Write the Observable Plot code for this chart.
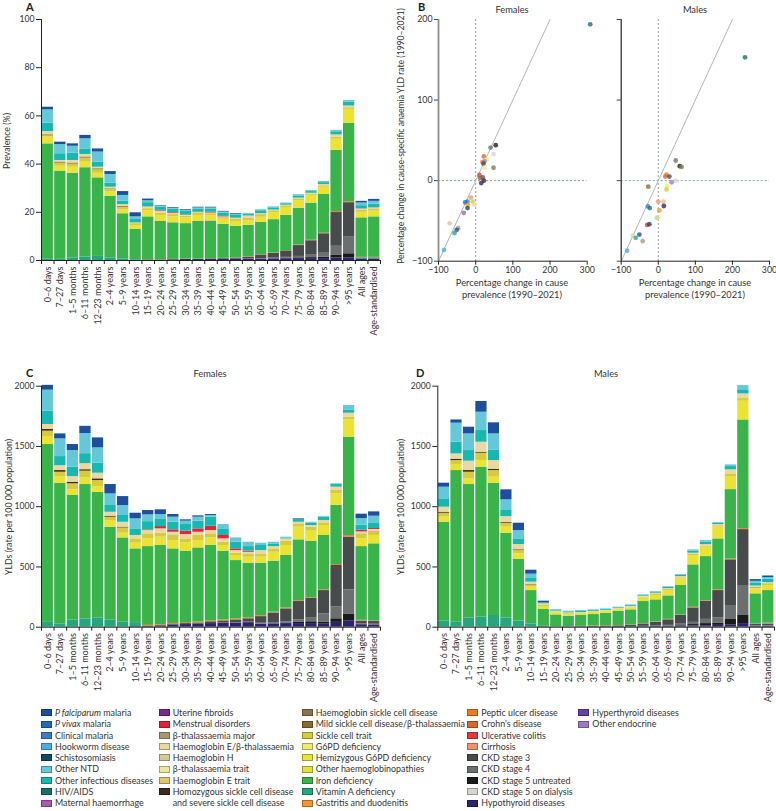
<!DOCTYPE html>
<html><head><meta charset="utf-8">
<script src="https://cdn.jsdelivr.net/npm/d3@7"></script>
<script src="https://cdn.jsdelivr.net/npm/@observablehq/plot@0.6"></script>
<style>
body{margin:0;background:#fff;}
#root{position:relative;width:776px;height:811px;font-family:Lato,"Open Sans",sans-serif;color:#333;overflow:hidden;background:#fff;}
#root div{position:absolute;white-space:nowrap;}
.pl{font-weight:bold;font-size:11px;color:#222;}
.ttl{font-size:9.3px;transform:translate(-50%,-50%);}
.rot{font-size:8.8px;transform:translate(-50%,-50%) rotate(-90deg);}
.lg{font-size:8.9px;line-height:11.3px;}
.sw{width:9px;height:5px;border:1px solid #444;}
</style></head><body><div id="root"></div>
<script>
// ---------- categories ----------
const ages = ["0–6 days","7–27 days","1–5 months","6–11 months","12–23 months","2–4 years","5–9 years","10–14 years","15–19 years","20–24 years","25–29 years","30–34 years","35–39 years","40–44 years","45–49 years","50–54 years","55–59 years","60–64 years","65–69 years","70–74 years","75–79 years","80–84 years","85–89 years","90–94 years",">95 years","All ages","Age-standardised"];

const causes = ["P falciparum malaria","P vivax malaria","Clinical malaria","Hookworm disease","Schistosomiasis","Other NTD","Other infectious diseases","HIV/AIDS","Maternal haemorrhage","Uterine fibroids","Menstrual disorders","β-thalassaemia major","Haemoglobin E/β-thalassaemia","Haemoglobin H","β-thalassaemia trait","Haemoglobin E trait","Homozygous sickle cell disease and severe sickle cell disease","Haemoglobin sickle cell disease","Mild sickle cell disease/β-thalassaemia","Sickle cell trait","G6PD deficiency","Hemizygous G6PD deficiency","Other haemoglobinopathies","Iron deficiency","Vitamin A deficiency","Gastritis and duodenitis","Peptic ulcer disease","Crohn's disease","Ulcerative colitis","Cirrhosis","CKD stage 3","CKD stage 4","CKD stage 5 untreated","CKD stage 5 on dialysis","Hypothyroid diseases","Hyperthyroid diseases","Other endocrine"];

const causeColors = ["#1d4f9e","#1c6db3","#3a7cc6","#4aaee0","#0f4a62","#64c8d9","#17b8b0","#17706c","#a45db0","#7a2a8e","#e2233b","#a69a76","#e9d8a2","#d3cc99","#ede7a0","#e5c26f","#3f2b17","#8a7452","#8a6a2c","#d6cb3e","#efeb74","#eae334","#e1e03e","#3ab44a","#27a57d","#f09830","#f07a22","#d8692b","#e8373a","#f3936b","#474b4b","#6b6f6f","#1a1a1a","#d7d7cf","#2b2371","#6a40a2","#9b7bc2"];

// ---------- Panel A: prevalence (%) ----------
const A_hypo = [0,0,0,0,0,0,0,0.1,0.2,0.2,0.3,0.4,0.4,0.5,0.5,0.6,0.6,0.6,0.7,0.7,0.8,0.8,0.8,1.0,1.1,0.5,0.5];
const A_ckd5u = [0,0,0,0,0,0,0,0,0,0,0,0,0,0,0,0,0,0,0,0.2,0.3,0.4,0.6,1.1,1.7,0.1,0.1];
const A_ckd4 = [0,0,0,0,0,0,0,0,0,0,0,0,0,0,0,0,0.1,0.2,0.3,0.4,0.6,1.0,1.6,3.8,6.9,0.1,0.1];
const A_ckd3 = [0,0,0,0,0,0,0,0,0,0,0.05,0.1,0.1,0.2,0.3,0.4,0.7,1.5,2.0,2.7,4.5,6.0,8.1,14.0,14.3,0.3,0.3];
const A_ulcer = [0,0,0,0,0,0,0,0,0.1,0.1,0.1,0.1,0.1,0.1,0.1,0.1,0.15,0.15,0.15,0.15,0.2,0.2,0.2,0.4,0.4,0.1,0.1];
const A_vitA = [0.7,0.5,1.1,1.4,1.7,1.1,0.7,0.3,0.1,0,0,0,0,0,0,0,0,0,0,0,0,0,0,0,0,0.2,0.2];
const A_iron = [47.7,36.6,35.1,37.1,32.6,25.5,18.7,12.6,17.7,15.9,15.2,14.7,15.7,15.6,14.1,13.1,13.0,13.4,13.8,14.6,15.3,15.4,16.1,25.4,32.5,16.4,16.8];
const A_yellow = [2.8,2.0,2.5,2.3,1.9,1.8,1.6,1.5,2.5,2.5,2.5,2.4,2.4,2.2,2.1,2.0,1.9,2.1,2.8,3.2,3.1,3.2,3.0,4.6,5.8,2.3,2.4];
const A_olive = [0.6,1.4,1.4,1.8,1.5,1.1,1.2,0.8,0.9,0.9,0.9,0.7,0.8,0.8,0.7,0.8,1.0,1.1,0.9,0.7,0.8,0.5,0.6,0.9,0.7,0.8,0.8];
const A_brown = [0.3,0.3,0.3,0.3,0.3,0.2,0.2,0,0,0,0,0,0,0,0,0,0,0,0,0,0,0,0,0,0,0.05,0.05];
const A_thal = [1.4,0.7,1.1,1.1,0.7,0.7,0.8,0.3,0.7,0.9,0.5,0.3,0.4,0.3,0.3,0.5,1.0,0.4,0.3,0.3,0.3,0.4,0.5,0.9,0.7,0.5,0.5];
const A_menstrual = [0,0,0,0,0,0,0,0,0.1,0.3,0.3,0.2,0.2,0.3,0.2,0.1,0,0,0,0,0,0,0,0,0,0.1,0.1];
const A_otherInf = [3.5,2.8,3.0,2.3,2.1,1.7,1.4,1.4,1.7,1.4,1.4,1.5,1.3,1.4,1.4,1.1,0.8,1.2,0.9,0.6,0.9,0.7,0.8,1.3,1.6,1.3,1.4];
const A_otherNTD = [5.5,3.8,2.9,4.2,4.2,3.6,2.4,1.1,0.8,0.4,0.4,0.4,0.4,0.4,0.4,0.4,0.3,0.4,0.4,0.3,0.5,0.4,0.5,0.6,0.7,1.1,1.2];
const A_blue = [1.1,1.0,1.0,1.4,1.3,1.2,1.6,1.7,0.7,0.2,0.3,0.3,0.3,0.3,0.3,0.3,0,0,0,0,0,0,0,0,0,0.7,0.8];

// ---------- Panel C: females YLDs per 100 000 ----------
const C_hypo = [0,0,0,0,0,0,0,5,8,12,18,22,25,30,32,35,38,25,28,30,30,30,25,40,50,20,18];
const C_ckd5u = [0,0,0,0,0,0,0,0,0,0,0,0,0,0,0,0,0,0,0,5,10,15,16,30,60,2,2];
const C_ckd4 = [0,0,0,0,0,0,0,0,0,0,0,0,0,0,2,3,4,8,10,10,20,30,69,100,200,5,5];
const C_ckd3 = [0,0,0,0,0,0,0,0,0,0,5,8,10,15,18,22,28,55,80,107,153,166,194,342,437,22,22];
const C_ulcer = [0,0,0,0,0,0,0,0,7,8,8,8,8,8,8,8,8,7,7,8,7,5,6,8,13,5,5];
const C_vitA = [40,28,60,69,77,61,41,33,0,0,0,0,0,0,0,0,0,0,0,0,0,0,0,0,0,3,3];
const C_iron = [1476,1167,1033,1115,1043,769,700,612,654,658,619,593,615,625,571,485,453,436,423,435,505,468,451,490,817,612,637];
const C_yellow = [66,55,47,55,47,55,39,47,64,69,69,69,61,63,47,42,50,50,74,83,105,83,83,96,143,64,69];
const C_olive = [45,36,50,56,50,28,44,36,42,33,42,33,42,34,27,19,22,22,28,36,22,33,22,28,23,36,27];
const C_brown = [15,14,13,12,14,8,6,0,0,0,0,0,0,0,0,0,0,0,0,0,0,0,0,0,0,3,3];
const C_thal = [40,40,47,50,47,33,41,28,27,36,27,36,27,27,28,22,19,33,19,19,19,14,19,28,33,19,20];
const C_menstrual = [0,0,0,0,0,0,0,0,5,19,20,28,28,36,28,14,9,0,0,0,0,0,0,0,0,14,8];
const C_otherInf = [110,76,78,83,83,56,56,55,69,64,63,55,64,75,55,55,38,42,22,8,20,19,28,22,27,42,47];
const C_otherNTD = [175,147,138,167,127,96,83,83,56,36,42,28,33,14,36,36,36,19,14,6,0,8,5,6,37,55,55];
const C_blue = [40,41,50,60,83,78,74,47,36,39,22,11,11,8,0,0,0,0,0,0,8,0,0,0,0,36,36];

// ---------- Panel D: males YLDs per 100 000 ----------
const D_hypo = [0,0,0,0,0,0,0,0,4,3,3,4,5,5,6,5,5,6,7,8,10,12,15,20,30,8,8];
const D_ckd5u = [0,0,0,0,0,0,0,0,0,0,0,0,0,0,0,0,0,0,0,5,12,18,20,49,67,1,1];
const D_ckd4 = [0,0,0,0,0,0,0,0,0,0,0,0,0,0,0,0,2,4,8,12,18,35,42,111,249,2,3];
const D_ckd3 = [0,0,0,0,0,0,0,0,2,1,1,2,3,5,5,10,20,30,46,72,120,151,227,379,464,12,14];
const D_ulcer = [0,0,0,0,0,0,0,0,1,1,1,1,2,2,2,2,3,5,4,3,5,4,6,6,8,3,3];
const D_vitA = [50,41,77,83,97,77,50,28,0,0,0,0,0,0,0,0,0,0,0,0,0,0,0,0,0,5,5];
const D_iron = [821,1259,1107,1245,1098,703,514,276,140,97,86,90,95,104,120,127,183,182,195,246,352,366,423,577,902,246,270];
const D_yellow = [42,50,47,55,50,50,45,28,24,17,17,16,17,14,13,16,30,36,44,55,78,78,97,108,155,41,42];
const D_olive = [33,33,55,61,55,33,27,19,14,8,6,5,5,5,4,5,6,8,9,9,9,10,12,22,28,10,10];
const D_brown = [8,11,14,8,11,6,6,3,0,0,0,0,0,0,0,0,0,0,0,0,0,0,0,0,0,2,2];
const D_thal = [42,44,78,83,72,49,44,20,9,6,5,4,4,5,5,7,8,11,8,10,10,12,10,34,33,12,12];
const D_menstrual = [0,0,0,0,0,0,0,0,0,0,0,0,0,0,0,0,0,0,0,0,0,0,0,0,0,0,0];
const D_otherInf = [69,97,88,97,88,56,47,30,8,8,8,9,7,7,6,7,6,8,10,10,18,20,10,27,34,25,28];
const D_otherNTD = [97,158,138,152,133,83,69,36,0,6,6,7,6,5,5,6,5,6,6,7,10,13,7,14,35,14,14];
const D_blue = [33,27,56,89,92,83,61,33,14,0,0,0,0,0,0,0,0,0,0,0,0,0,0,0,0,14,13];

// which cause each series belongs to
const seriesCauses = ["Hypothyroid diseases","CKD stage 5 untreated","CKD stage 4","CKD stage 3","Peptic ulcer disease","Vitamin A deficiency","Iron deficiency","Hemizygous G6PD deficiency","Sickle cell trait","Homozygous sickle cell disease and severe sickle cell disease","Haemoglobin E/β-thalassaemia","Menstrual disorders","Other infectious diseases","Other NTD","P falciparum malaria"];
const A_series = [A_hypo,A_ckd5u,A_ckd4,A_ckd3,A_ulcer,A_vitA,A_iron,A_yellow,A_olive,A_brown,A_thal,A_menstrual,A_otherInf,A_otherNTD,A_blue];
const C_series = [C_hypo,C_ckd5u,C_ckd4,C_ckd3,C_ulcer,C_vitA,C_iron,C_yellow,C_olive,C_brown,C_thal,C_menstrual,C_otherInf,C_otherNTD,C_blue];
const D_series = [D_hypo,D_ckd5u,D_ckd4,D_ckd3,D_ulcer,D_vitA,D_iron,D_yellow,D_olive,D_brown,D_thal,D_menstrual,D_otherInf,D_otherNTD,D_blue];

// ---------- Panel B: % change ----------
const B_identity = [-100, 200];
const BF_x = [308,54,40,48,22,30,18,24,21,24,48,10,19,12,22,15,-13,-22,-28,-8,-4,-21,-22,-32,-70,-47,-51,-57,-85];
const BF_y = [194,44,41,33,30,26,23,24,21,16,16,7,4,3,0,-3,-21,-26,-27,-26,-30,-30,-34,-40,-53,-59,-61,-65,-86];
const BF_cause = ["HIV/AIDS","CKD stage 5 untreated","CKD stage 4","CKD stage 5 on dialysis","Crohn's disease","G6PD deficiency","Peptic ulcer disease","Other endocrine","CKD stage 3","β-thalassaemia trait","Haemoglobin sickle cell disease","Ulcerative colitis","Hyperthyroid diseases","Mild sickle cell disease/β-thalassaemia","Homozygous sickle cell disease and severe sickle cell disease","Hypothyroid diseases","Cirrhosis","Clinical malaria","P vivax malaria","Sickle cell trait","Haemoglobin E/β-thalassaemia","Gastritis and duodenitis","Schistosomiasis","Maternal haemorrhage","Haemoglobin H","β-thalassaemia major","P falciparum malaria","Vitamin A deficiency","Hookworm disease"];
const BM_x = [234,47,58,63,22,19,30,47,36,-27,24,22,0,14,15,-28,-23,3,0,-4,-30,-24,-51,-69,-61,-42,-84];
const BM_y = [153,25,18,17,7.5,5,5,0,-2,-7.5,-7,-11,-26,-26,-31.5,-32,-34,-37,-45.5,-46,-55,-54,-67,-68,-71,-75,-87];
const BM_cause = ["HIV/AIDS","CKD stage 4","CKD stage 5 untreated","Haemoglobin sickle cell disease","Peptic ulcer disease","Crohn's disease","CKD stage 3","CKD stage 5 on dialysis","Other endocrine","Mild sickle cell disease/β-thalassaemia","G6PD deficiency","Sickle cell trait","Cirrhosis","Haemoglobin E trait","Hypothyroid diseases","Clinical malaria","P vivax malaria","Gastritis and duodenitis","β-thalassaemia trait","Haemoglobin H","Ulcerative colitis","Schistosomiasis","P falciparum malaria","Haemoglobin E/β-thalassaemia","Vitamin A deficiency","β-thalassaemia major","Hookworm disease"];

// ---------- helpers ----------
const root = document.getElementById("root");
const FONT = "Lato, 'Open Sans', sans-serif";
const colorScale = {domain: causes, range: causeColors, type: "ordinal"};
const stackOrder = causes.slice().reverse();

function place(svg, left, top) {
  svg.style.position = "absolute";
  svg.style.left = left + "px";
  svg.style.top = top + "px";
  svg.style.overflow = "visible";
  svg.style.maxWidth = "none";
  svg.style.background = "transparent";
  root.appendChild(svg);
}
function text(html, cls, x, y, extra = "") {
  const d = document.createElement("div");
  d.className = cls;
  d.innerHTML = html;
  d.style.cssText += `left:${x}px;top:${y}px;${extra}`;
  root.appendChild(d);
  return d;
}

function stackPanel(seriesArr, o) {
  const rows = [];
  seriesArr.forEach((arr, k) => arr.forEach((v, i) => { if (v > 0) rows.push({i, cause: seriesCauses[k], value: v}); }));
  return Plot.plot({
    width: o.width, height: o.height,
    marginLeft: o.ml, marginRight: o.mr, marginTop: o.mt, marginBottom: o.mb,
    style: {fontFamily: FONT, fontSize: "8.5px", color: "#333", background: "transparent"},
    x: {domain: [-0.5, 26.5], label: null},
    y: {domain: o.yDomain, label: null},
    color: colorScale,
    marks: [
      Plot.rectY(rows, Plot.stackY({x1: d => d.i - 0.45, x2: d => d.i + 0.45, y: "value", fill: "cause", order: stackOrder})),
      Plot.axisY({ticks: o.yTicks, tickFormat: "d", tickSize: 5, tickPadding: 2, label: null, stroke: "#222", fontSize: 8.6}),
      Plot.axisX({ticks: d3.range(27), tickFormat: i => ages[i], tickRotate: -90, tickSize: 0, tickPadding: 6, label: null, fontSize: 9}),
      Plot.axisX({ticks: d3.range(28).map(i => i - 0.5), tickFormat: () => "", tickSize: 4, label: null, stroke: "#222"}),
      Plot.ruleY([o.yDomain[0]], {stroke: "#222", strokeWidth: 1}),
      Plot.ruleX([-0.5], {stroke: "#222", strokeWidth: 1})
    ]
  });
}

function scatterPanel(xs, ys, cs, o) {
  const idx = d3.range(xs.length);
  return Plot.plot({
    width: 200, height: 310, marginLeft: o.ml, marginRight: o.mr, marginTop: 19, marginBottom: 49.3,
    style: {fontFamily: FONT, fontSize: "8.8px", color: "#333", background: "transparent"},
    x: {domain: [-100, 300], label: null},
    y: {domain: [-100, 200], label: null},
    color: colorScale,
    marks: [
      Plot.ruleY([0], {stroke: "#8d9ea8", strokeDasharray: "2,2", strokeWidth: 1}),
      Plot.ruleX([0], {stroke: "#8d9ea8", strokeDasharray: "2,2", strokeWidth: 1}),
      Plot.line(B_identity, {x: d => d, y: d => d, stroke: "#adb7bf", strokeWidth: 1}),
      Plot.dot(idx, {x: i => xs[i], y: i => ys[i], fill: i => cs[i], r: 2.4, fillOpacity: 0.78}),
      Plot.axisY({ticks: [-100, 0, 100, 200], tickSize: 4, tickPadding: 2, label: null, tickFormat: o.yLabels ? undefined : () => "", stroke: "#444"}),
      Plot.axisX({ticks: [-100, 0, 100, 200, 300], tickSize: 4, tickPadding: 2, label: null, stroke: "#222"}),
      Plot.ruleX([-100], {stroke: o.axisColor, strokeWidth: o.axisWidth}),
      Plot.ruleY([-100], {stroke: "#222", strokeWidth: 1})
    ]
  });
}

// ---------- Panel A ----------
place(stackPanel(A_series, {width: 390, height: 345, ml: 41, mr: 10, mt: 19, mb: 85, yDomain: [0, 100], yTicks: [0, 20, 40, 60, 80, 100]}), 0, 0);
text("A", "pl", 26, 0);
text("Prevalence (%)", "rot", 6, 141);

// ---------- Panel B ----------
place(scatterPanel(BF_x, BF_y, BF_cause, {ml: 48, mr: 3.3, yLabels: true, axisColor: "#8c8c8c", axisWidth: 1.8}), 390, 0);
place(scatterPanel(BM_x, BM_y, BM_cause, {ml: 50.7, mr: 1, yLabels: false, axisColor: "#222", axisWidth: 1.2}), 570, 0);
text("B", "pl", 418, 0);
text("Females", "ttl", 512, 9);
text("Males", "ttl", 695, 9);
text("Percentage change in cause-specific anaemia YLD rate (1990–2021)", "rot", 401, 136, "font-size:8.6px;");
text("Percentage change in cause<br>prevalence (1990–2021)", "ttl", 512, 289, "text-align:center;line-height:12px;");
text("Percentage change in cause<br>prevalence (1990–2021)", "ttl", 695, 289, "text-align:center;line-height:12px;");

// ---------- Panel C ----------
place(stackPanel(C_series, {width: 390, height: 330, ml: 41, mr: 10, mt: 15.7, mb: 73.3, yDomain: [0, 2000], yTicks: [0, 500, 1000, 1500, 2000]}), 0, 370);
text("C", "pl", 26, 366);
text("Females", "ttl", 210, 373);
text("YLDs (rate per 100 000 population)", "rot", 8, 507);

// ---------- Panel D ----------
place(stackPanel(D_series, {width: 386, height: 330, ml: 47.3, mr: 2, mt: 15.7, mb: 73.3, yDomain: [0, 2000], yTicks: [0, 500, 1000, 1500, 2000]}), 390, 370);
text("D", "pl", 416, 366);
text("Males", "ttl", 606, 373);
text("YLDs (rate per 100 000 population)", "rot", 400, 507);

// ---------- Legend ----------
const legendCols = [[0, 8], [9, 16], [17, 25], [26, 34], [35, 36]];
const legendX = [41, 158.7, 301.7, 467.3, 578.3];
const legendLabels = causes.map(c =>
  c === "P falciparum malaria" ? "<i>P falciparum</i> malaria" :
  c === "P vivax malaria" ? "<i>P vivax</i> malaria" :
  c.startsWith("Homozygous") ? "Homozygous sickle cell disease<br>and severe sickle cell disease" : c);
legendCols.forEach(([a, b], col) => {
  for (let k = a; k <= b; k++) {
    const r = k - a;
    const yc = 712.7 + 11.3 * r;
    const sw = document.createElement("div");
    sw.className = "sw";
    sw.style.cssText += `left:${legendX[col]}px;top:${yc - 3.5}px;background:${causeColors[k]};border-color:${d3.color(causeColors[k]).darker(1)};`;
    root.appendChild(sw);
    text(legendLabels[k], "lg", legendX[col] + 14, yc - 5.8);
  }
});
</script></body></html>
